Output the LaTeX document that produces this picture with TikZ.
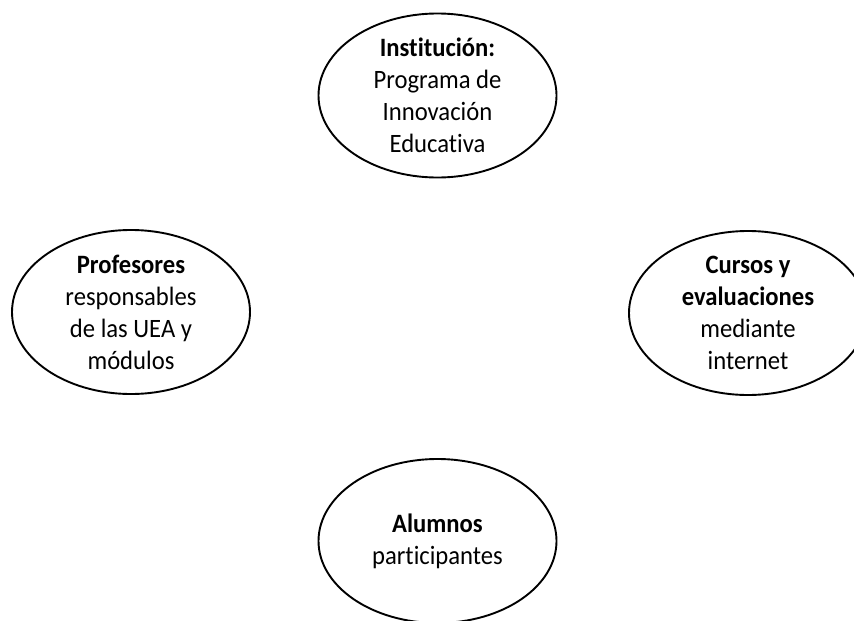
\documentclass[tikz,border=0pt]{standalone}
\usepackage{fontspec}
\setmainfont{Carlito}[Ligatures=NoCommon, FakeStretch=0.93]
\usetikzlibrary{shapes.geometric}
\tikzset{
  oval/.style={draw=black, line width=1.9pt, ellipse, minimum width=238pt, minimum height=164pt, inner sep=0pt, align=center, font=\fontsize{26.5}{32}\selectfont}
}
\begin{document}
\begin{tikzpicture}[x=1pt,y=-1pt]
\useasboundingbox (0,0) rectangle (854,621);
\clip (0,0) rectangle (854,621);
\fill[white] (0,0) rectangle (854,621);
\node[oval] (inst) at (437.5,95.5) {\textbf{Institución:}\\Programa de\\Innovación\\Educativa};
\node[oval] (prof) at (131,312) {\textbf{Profesores}\\responsables\\de las UEA y\\módulos};
\node[oval] (curs) at (748,313) {\textbf{Cursos y}\\\textbf{evaluaciones}\\mediante\\internet};
\node[oval] (alum) at (437.5,541) {\textbf{Alumnos}\\participantes};
\end{tikzpicture}
\end{document}
